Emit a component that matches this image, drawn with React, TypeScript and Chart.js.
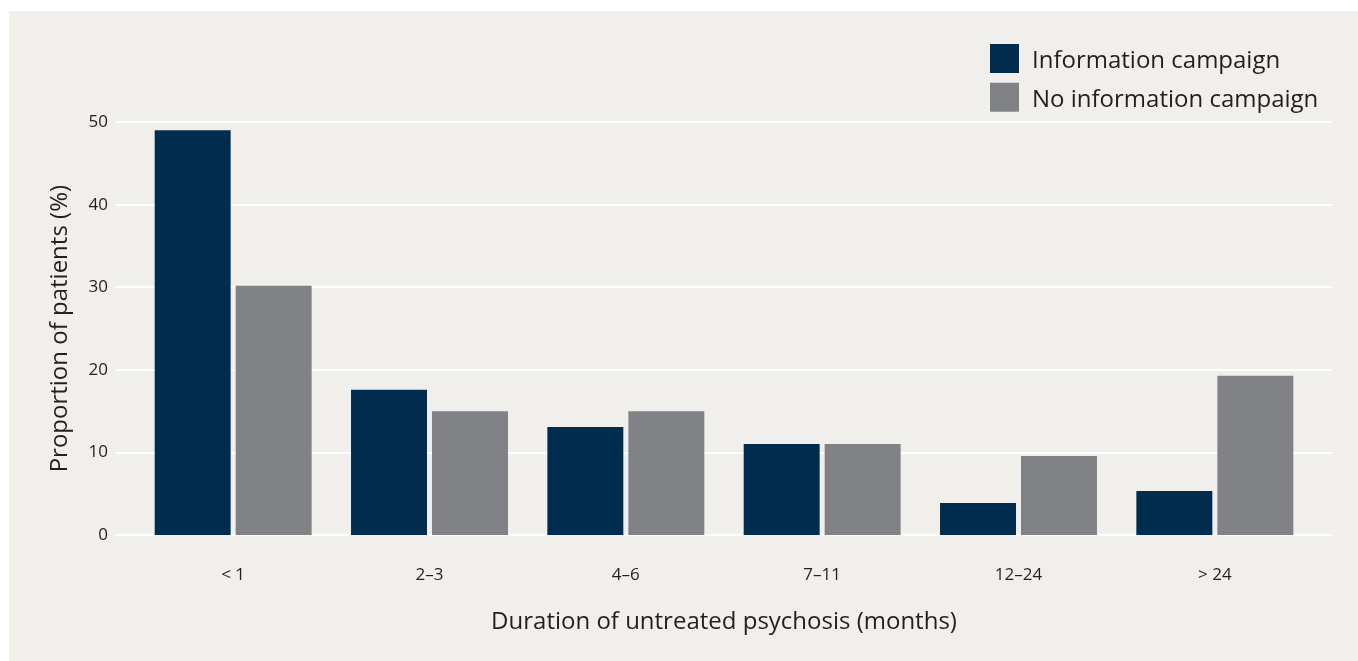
import React, { useEffect, useRef } from "react";
import { Chart, registerables } from "chart.js";

Chart.register(...registerables);

const categories = ["< 1", "2–3", "4–6", "7–11", "12–24", "> 24"];
const infoCampaign = [49.0, 17.6, 13.1, 11.05, 3.9, 5.35];
const noInfoCampaign = [30.2, 15.0, 15.0, 11.05, 9.6, 19.3];
const seriesLabels = ["Information campaign", "No information campaign"];
const yTicks = [0, 10, 20, 30, 40, 50];

const NAVY = "#002d4e";
const GREY = "#818286";
const BG = "#f0efeb";
const TEXT = "#231f20";
const FONT = "'Open Sans', 'Noto Sans', sans-serif";

const W = 1349;
const H = 650;

export default function App() {
  const ref = useRef<HTMLCanvasElement | null>(null);

  useEffect(() => {
    if (!ref.current) return;

    const gridPlugin = {
      id: "extGrid",
      beforeDatasetsDraw(chart: any) {
        const { ctx, chartArea, scales } = chart;
        const y = scales.y;
        ctx.save();
        ctx.strokeStyle = "#ffffff";
        ctx.lineWidth = 2;
        yTicks.forEach((v) => {
          const py = Math.round(y.getPixelForValue(v));
          ctx.beginPath();
          ctx.moveTo(chartArea.left - 19, py);
          ctx.lineTo(chartArea.right + 19, py);
          ctx.stroke();
        });
        ctx.restore();
      },
    };

    const legendPlugin = {
      id: "stackLegend",
      afterDraw(chart: any) {
        const { ctx } = chart;
        ctx.save();
        chart.data.datasets.forEach((ds: any, i: number) => {
          const top = 33 + i * 38.7;
          ctx.fillStyle = ds.backgroundColor;
          ctx.fillRect(981, top, 29, 29);
          ctx.fillStyle = TEXT;
          ctx.font = `24px ${FONT}`;
          ctx.textBaseline = "middle";
          ctx.textAlign = "left";
          ctx.fillText(ds.label, 1023, top + 17);
        });
        ctx.restore();
      },
    };

    const chart = new Chart(ref.current, {
      type: "bar",
      data: {
        labels: categories,
        datasets: [
          {
            label: seriesLabels[0],
            data: infoCampaign,
            backgroundColor: NAVY,
            categoryPercentage: 0.825,
            barPercentage: 0.938,
          },
          {
            label: seriesLabels[1],
            data: noInfoCampaign,
            backgroundColor: GREY,
            categoryPercentage: 0.825,
            barPercentage: 0.938,
          },
        ],
      },
      options: {
        responsive: false,
        animation: false,
        devicePixelRatio: 1,
        layout: { padding: { top: 111, left: 0, right: 45, bottom: 0 } },
        plugins: {
          legend: { display: false },
          tooltip: { enabled: false },
        },
        scales: {
          x: {
            grid: { display: false, drawTicks: false },
            border: { display: false },
            ticks: {
              color: TEXT,
              font: { family: FONT, size: 17 },
              padding: 30,
            },
            title: {
              display: true,
              text: "Duration of untreated psychosis (months)",
              color: TEXT,
              font: { family: FONT, size: 24 },
              padding: { top: 0, bottom: 24 },
            },
            afterFit(scale: any) {
              scale.height = 125.7;
            },
          },
          y: {
            min: 0,
            max: 50,
            grid: { display: false, drawTicks: false },
            border: { display: false },
            ticks: {
              stepSize: 10,
              color: TEXT,
              font: { family: FONT, size: 17 },
              padding: 27,
            },
            title: {
              display: true,
              text: "Proportion of patients (%)",
              color: TEXT,
              font: { family: FONT, size: 24 },
              padding: { top: 37, bottom: 0 },
            },
            afterFit(scale: any) {
              scale.width = 126;
            },
          },
        },
      },
      plugins: [gridPlugin, legendPlugin],
    });

    return () => chart.destroy();
  }, []);

  return (
    <div
      style={{
        position: "absolute",
        left: 9,
        top: 11,
        width: W,
        height: H,
        background: BG,
      }}
    >
      <canvas ref={ref} width={W} height={H} style={{ display: "block" }} />
    </div>
  );
}
